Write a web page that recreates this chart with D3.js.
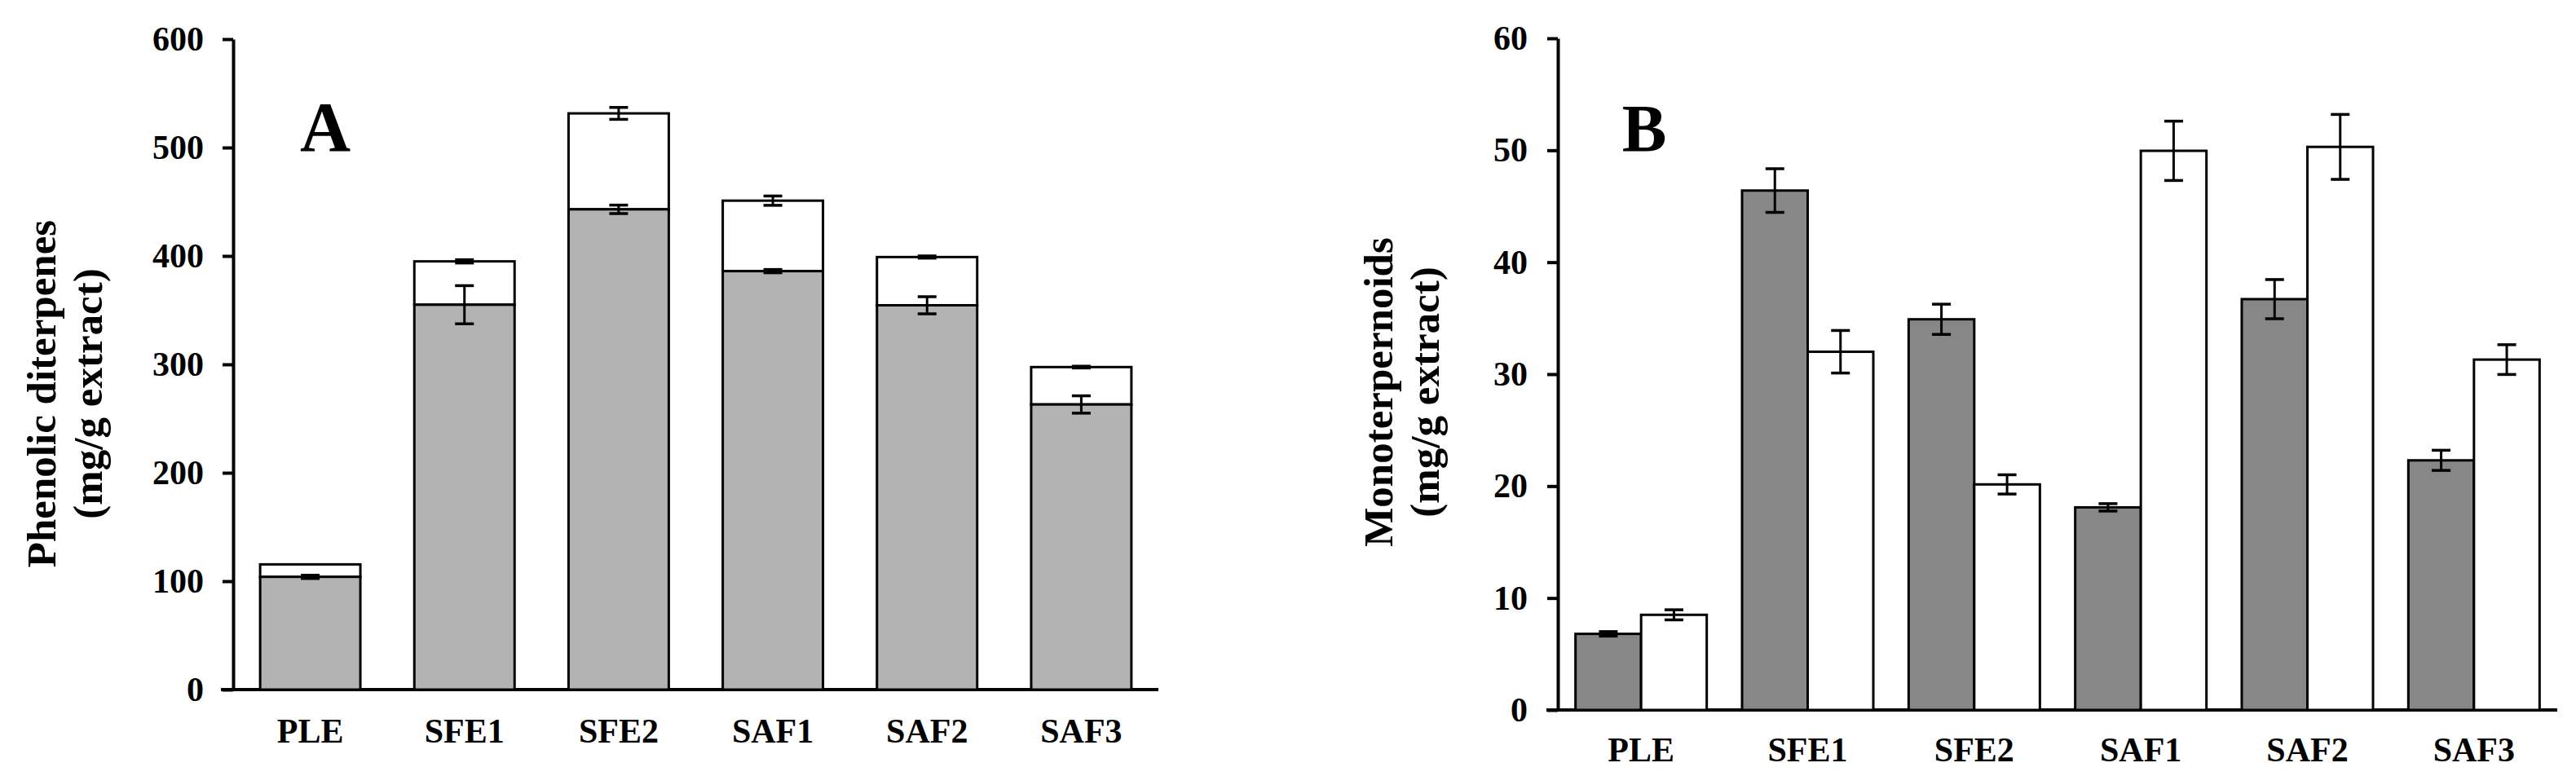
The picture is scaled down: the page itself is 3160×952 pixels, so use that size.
<!DOCTYPE html>
<html>
<head>
<meta charset="utf-8">
<script src="https://cdn.jsdelivr.net/npm/d3@7/dist/d3.min.js"></script>
<style>
  body { margin: 0; background: #fff; }
  svg { display: block; }
  text { font-family: "Liberation Serif", "Times New Roman", serif; font-weight: bold; fill: #000; }
</style>
</head>
<body>
<div id="chart"></div>
<script>
// categories shared by both panels
const categories = ["PLE", "SFE1", "SFE2", "SAF1", "SAF2", "SAF3"];

// Panel A: stacked bars (grey base + white top segment), mg/g extract
const diterpBase = [104, 355, 443, 386, 354.5, 263];
const diterpBaseErr = [1.5, 17.6, 3.9, 1.5, 7.9, 8];
const diterpTop = [11.5, 40, 88.5, 65, 44.5, 34.5];
const diterpTopErr = [0, 1.5, 5.5, 4.3, 1, 0.8];
const diterpTicks = [0, 100, 200, 300, 400, 500, 600];

// Panel B: grouped bars (grey / white), mg/g extract
const monoGrey = [6.8, 46.4, 34.9, 18.1, 36.7, 22.3];
const monoGreyErr = [0.2, 1.95, 1.35, 0.33, 1.75, 0.9];
const monoWhite = [8.5, 32.0, 20.15, 49.95, 50.3, 31.3];
const monoWhiteErr = [0.45, 1.9, 0.86, 2.65, 2.9, 1.33];
const monoTicks = [0, 10, 20, 30, 40, 50, 60];

const W = 3160, H = 952;
const svg = d3.select("#chart").append("svg")
    .attr("width", W)
    .attr("height", H);

// draws one error bar (vertical line with caps)
function errorBar(g, cx, yTop, yBot) {
    const cap = 11.5;
    g.append("line").attr("x1", cx).attr("x2", cx).attr("y1", yTop).attr("y2", yBot)
        .attr("stroke", "#000").attr("stroke-width", 3);
    g.append("line").attr("x1", cx - cap).attr("x2", cx + cap).attr("y1", yTop).attr("y2", yTop)
        .attr("stroke", "#000").attr("stroke-width", 3.5);
    g.append("line").attr("x1", cx - cap).attr("x2", cx + cap).attr("y1", yBot).attr("y2", yBot)
        .attr("stroke", "#000").attr("stroke-width", 3.5);
}

function styleAxis(g) {
    g.select(".domain").attr("stroke", "#000").attr("stroke-width", 4);
    g.selectAll(".tick line").attr("stroke", "#000").attr("stroke-width", 4);
    g.selectAll(".tick text").attr("font-size", 42).attr("fill", "#000")
        .attr("font-family", "Liberation Serif, Times New Roman, serif").attr("font-weight", "bold");
}

function yTitle(x, y, lines) {
    const t = svg.append("text")
        .attr("transform", `translate(${x},${y}) rotate(-90)`)
        .attr("text-anchor", "middle")
        .attr("font-size", 51);
    lines.forEach((s, i) => {
        t.append("tspan").attr("x", 0).attr("y", i * 57).text(s);
    });
}

// ---------------- Panel A ----------------
const xA = d3.scaleBand().domain(categories).range([286, 1421]).paddingInner(0.35).paddingOuter(0.175);
const yA = d3.scaleLinear().domain([0, 600]).range([846, 48]);

const gA = svg.append("g");

gA.append("g")
    .attr("transform", `translate(0,${yA(0)})`)
    .call(d3.axisBottom(xA).tickSize(0).tickSizeOuter(0).tickPadding(35))
    .call(styleAxis)
    .call(g => g.select(".domain").attr("d", `M271,0H1421`));

gA.append("g")
    .attr("transform", `translate(${xA.range()[0]},0)`)
    .call(d3.axisLeft(yA).tickValues(diterpTicks).tickSize(13).tickSizeOuter(0).tickPadding(23))
    .call(styleAxis);

categories.forEach((c, i) => {
    const x = xA(c), w = xA.bandwidth();
    const total = diterpBase[i] + diterpTop[i];
    gA.append("rect")
        .attr("x", x).attr("y", yA(total)).attr("width", w).attr("height", yA(diterpBase[i]) - yA(total))
        .attr("fill", "#fff").attr("stroke", "#000").attr("stroke-width", 3);
    gA.append("rect")
        .attr("x", x).attr("y", yA(diterpBase[i])).attr("width", w).attr("height", yA(0) - yA(diterpBase[i]))
        .attr("fill", "#b3b3b3").attr("stroke", "#000").attr("stroke-width", 3);
    const cx = x + w / 2;
    errorBar(gA, cx, yA(diterpBase[i] + diterpBaseErr[i]), yA(diterpBase[i] - diterpBaseErr[i]));
    if (diterpTopErr[i] > 0) {
        errorBar(gA, cx, yA(total + diterpTopErr[i]), yA(total - diterpTopErr[i]));
    }
});

svg.append("text").attr("x", 399).attr("y", 185).attr("text-anchor", "middle")
    .attr("font-size", 86).text("A");

yTitle(68, 483, ["Phenolic diterpenes", "(mg/g extract)"]);

// ---------------- Panel B ----------------
const xB = d3.scaleBand().domain(categories).range([1911, 3137]).paddingInner(0.212).paddingOuter(0.106);
const xSub = d3.scaleBand().domain(["grey", "white"]).range([0, xB.bandwidth()]);
const yB = d3.scaleLinear().domain([0, 60]).range([871, 47]);

const gB = svg.append("g");

gB.append("g")
    .attr("transform", `translate(0,${yB(0)})`)
    .call(d3.axisBottom(xB).tickSize(0).tickSizeOuter(0).tickPadding(33))
    .call(styleAxis)
    .call(g => g.select(".domain").attr("d", `M1897,0H3137`));

gB.append("g")
    .attr("transform", `translate(${xB.range()[0]},0)`)
    .call(d3.axisLeft(yB).tickValues(monoTicks).tickSize(13).tickSizeOuter(0).tickPadding(24))
    .call(styleAxis);

const seriesB = [
    { key: "grey", values: monoGrey, errs: monoGreyErr, fill: "#878787" },
    { key: "white", values: monoWhite, errs: monoWhiteErr, fill: "#ffffff" }
];

seriesB.forEach(s => {
    categories.forEach((c, i) => {
        const x = xB(c) + xSub(s.key), w = xSub.bandwidth();
        const v = s.values[i], e = s.errs[i];
        gB.append("rect")
            .attr("x", x).attr("y", yB(v)).attr("width", w).attr("height", yB(0) - yB(v))
            .attr("fill", s.fill).attr("stroke", "#000").attr("stroke-width", 3);
        errorBar(gB, x + w / 2, yB(v + e), yB(v - e));
    });
});

svg.append("text").attr("x", 2017).attr("y", 185).attr("text-anchor", "middle")
    .attr("font-size", 82).text("B");

yTitle(1708, 481, ["Monoterpernoids", "(mg/g extract)"]);
</script>
</body>
</html>
